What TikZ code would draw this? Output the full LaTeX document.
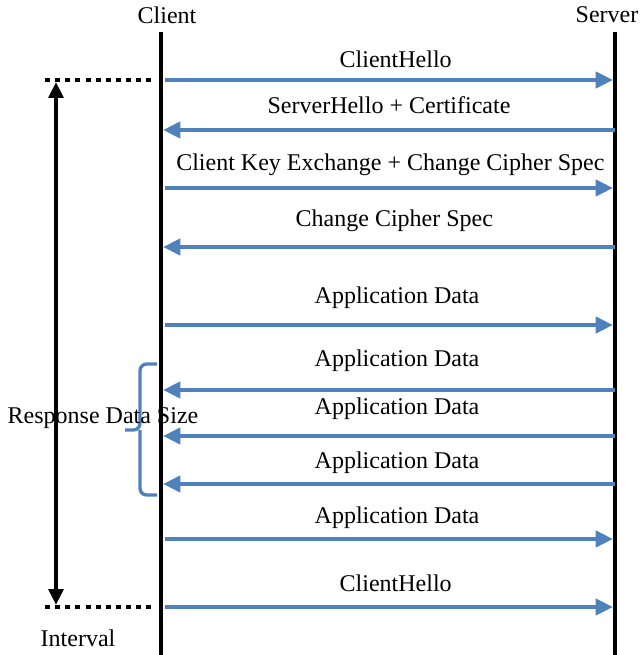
\documentclass[tikz,border=0pt]{standalone}
\usepackage{fontspec}
\setmainfont{Liberation Serif}
\usepackage{xcolor}
\usetikzlibrary{arrows.meta}

\definecolor{msgblue}{RGB}{79,129,189}

\tikzset{
  lifeline/.style={line width=3pt, black},
  msg/.style={line width=3pt, msgblue, -{Triangle[length=13pt, width=12pt]}},
  msglabel/.style={font=\fontsize{18}{20}\selectfont, inner sep=0pt, text=black},
  toplabel/.style={font=\fontsize{18}{20}\selectfont, inner sep=0pt},
  dotline/.style={line width=3.5pt, dash pattern=on 3.8pt off 3.8pt},
  interval/.style={line width=3pt, {Triangle[length=12pt, width=11pt]}-{Triangle[length=12pt, width=11pt]}}
}

\begin{document}
\begin{tikzpicture}[x=0.75pt, y=-0.75pt]
    \useasboundingbox (0,0) rectangle (639,655);

    % lifelines
    \node[toplabel] (client) at (167,15) {Client};
    \node[toplabel] (server) at (607,15) {Server};
    \coordinate (ctop) at (161,32);
    \coordinate (cbot) at (161,655);
    \coordinate (stop) at (615,32);
    \coordinate (sbot) at (615,655);
    \draw[lifeline] (ctop) -- (cbot);
    \draw[lifeline] (stop) -- (sbot);

    % message rows
    \coordinate (c1) at (165,80);   \coordinate (s1) at (613,80);
    \coordinate (c2) at (163,130);  \coordinate (s2) at (615,130);
    \coordinate (c3) at (165,188);  \coordinate (s3) at (613,188);
    \coordinate (c4) at (163,247);  \coordinate (s4) at (615,247);
    \coordinate (c5) at (165,325);  \coordinate (s5) at (613,325);
    \coordinate (c6) at (163,390);  \coordinate (s6) at (615,390);
    \coordinate (c7) at (163,436);  \coordinate (s7) at (615,436);
    \coordinate (c8) at (163,484);  \coordinate (s8) at (615,484);
    \coordinate (c9) at (165,539);  \coordinate (s9) at (613,539);
    \coordinate (c10) at (165,607); \coordinate (s10) at (613,607);

    \draw[msg] (c1) -- node[msglabel, above=7.5pt, xshift=5pt] {ClientHello} (s1);
    \draw[msg] (s2) -- node[msglabel, above=10.5pt] {ServerHello + Certificate} (c2);
    \draw[msg] (c3) -- node[msglabel, above=7.5pt, xshift=1pt] {Client Key Exchange + Change Cipher Spec} (s3);
    \draw[msg] (s4) -- node[msglabel, above=9.75pt, xshift=4pt] {Change Cipher Spec} (c4);
    \draw[msg] (c5) -- node[msglabel, above=11pt, xshift=6pt] {Application Data} (s5);
    \draw[msg] (s6) -- node[msglabel, above=12pt, xshift=6pt] {Application Data} (c6);
    \draw[msg] (s7) -- node[msglabel, above=10.5pt, xshift=6pt] {Application Data} (c7);
    \draw[msg] (s8) -- node[msglabel, above=6pt, xshift=6pt] {Application Data} (c8);
    \draw[msg] (c9) -- node[msglabel, above=6pt, xshift=6pt] {Application Data} (s9);
    \draw[msg] (c10) -- node[msglabel, above=9.75pt, xshift=5pt] {ClientHello} (s10);

    % interval marker
    \coordinate (d1) at (45,80);
    \coordinate (d2) at (156,80);
    \coordinate (d3) at (45,607);
    \coordinate (d4) at (156,607);
    \draw[dotline] (d1) -- (d2);
    \draw[dotline] (d3) -- (d4);
    \coordinate (i1) at (56,82);
    \coordinate (i2) at (56,605);
    \draw[interval] (i1) -- (i2);
    \node[msglabel] (interval) at (78,638) {Interval};

    % response brace
    \draw[msgblue, line width=2.5pt, rounded corners=5pt]
        (157,364) -- (140,364) -- (140,430) -- (125,430)
        (140,430) -- (140,495) -- (157,495);
    \node[msglabel] (respsize) at (103,418) {Response Data Size};
\end{tikzpicture}
\end{document}
